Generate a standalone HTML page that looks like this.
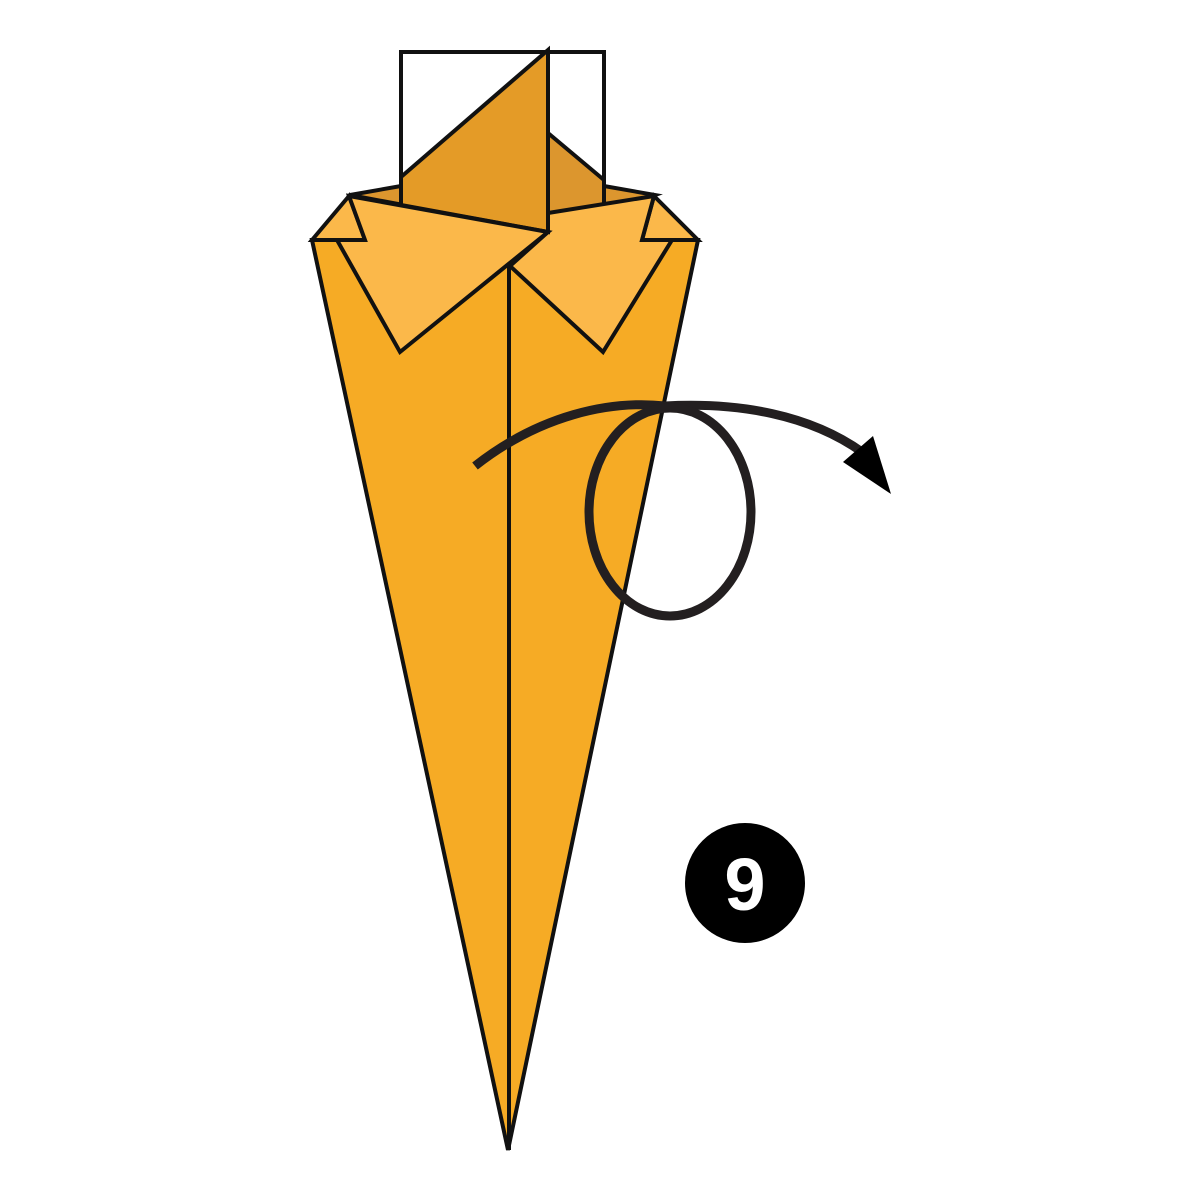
<!DOCTYPE html>
<html><head><meta charset="utf-8"><style>html,body{margin:0;padding:0;background:#fff}svg{display:block}</style></head>
<body>
<svg width="1200" height="1200" viewBox="0 0 1200 1200" xmlns="http://www.w3.org/2000/svg">
<g stroke="#111" stroke-width="4" stroke-linejoin="miter">
  <rect x="401" y="52" width="203" height="180" fill="#fff"/>
  <polygon points="350,195 401,186 604,186 655,195 548,232" fill="#dc962e"/>
  <polygon points="548,133 604,180 604,210 548,215" fill="#dc962e"/>
  <polygon points="312,240 698,240 508,1150" fill="#f6ab25"/>
  <polygon points="312,240 349,196 365,240" fill="#fbb84a"/>
  <polygon points="698,240 654,196 642,240" fill="#fbb84a"/>
  <polygon points="548,213 654,196 642,240 672,240 603,352 510,266 548,232" fill="#fbb84a"/>
  <polygon points="548,50 401,177 401,205 548,232" fill="#e49b27"/>
  <polygon points="349,196 548,232 400,352 337,240 365,240" fill="#fbb84a"/>
  <line x1="509" y1="266" x2="509" y2="1150"/>
</g>
<g fill="none" stroke="#231f20" stroke-width="9">
  <path d="M475,466 C540,415 610,400 665,406 C740,402 810,415 862,452"/>
  <ellipse cx="670" cy="512" rx="81" ry="104"/>
</g>
<polygon points="843,462 873,436 891,494" fill="#000"/>
<circle cx="745" cy="883" r="60" fill="#000"/>
<text x="745" y="910" text-anchor="middle" font-family="Liberation Sans, sans-serif" font-weight="bold" font-size="74" fill="#fff">9</text>
</svg>
</body></html>
